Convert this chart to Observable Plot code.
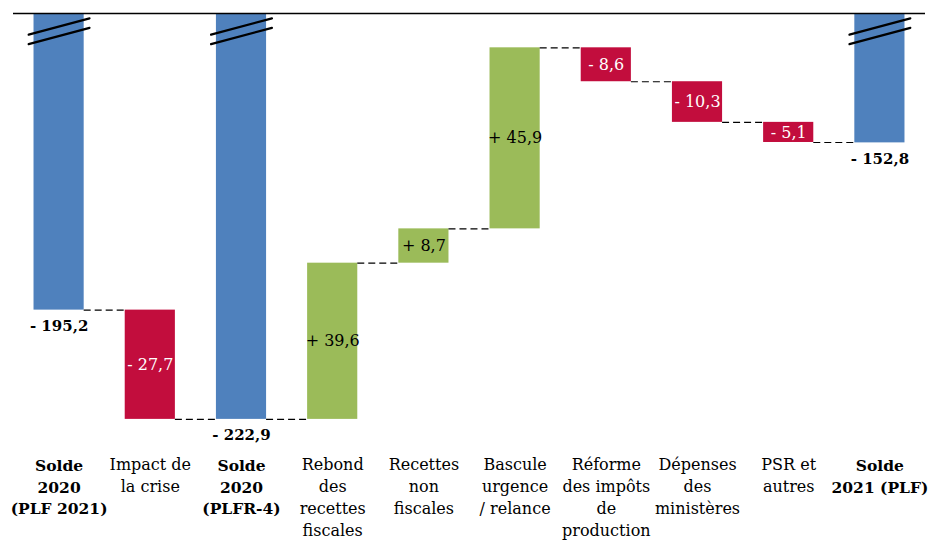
<!DOCTYPE html>
<html>
<head>
<meta charset="utf-8">
<script src="https://cdn.jsdelivr.net/npm/d3@7"></script>
<script src="https://cdn.jsdelivr.net/npm/@observablehq/plot@0.6"></script>
<style>
  html, body { margin: 0; padding: 0; background: #fff; }
</style>
</head>
<body>
<div id="chart"></div>
<script>
// ---- data ----
const categories = [
  "Solde\n2020\n(PLF 2021)",
  "Impact de\nla crise",
  "Solde\n2020\n(PLFR-4)",
  "Rebond\ndes\nrecettes\nfiscales",
  "Recettes\nnon\nfiscales",
  "Bascule\nurgence\n/ relance",
  "Réforme\ndes impôts\nde\nproduction",
  "Dépenses\ndes\nministères",
  "PSR et\nautres",
  "Solde\n2021 (PLF)"
];
const values = [-195.2, -27.7, -222.9, 39.6, 8.7, 45.9, -8.6, -10.3, -5.1, -152.8];
const kinds = ["total", "delta", "total", "delta", "delta", "delta", "delta", "delta", "delta", "total"];
const yDomain = [-228, -120];

// ---- derived rows ----
const fmt = v => (v < 0 ? "- " : "+ ") + Math.abs(v).toFixed(1).replace(".", ",");
let run = 0;
const rows = values.map((v, i) => {
  let y1, y2, cls;
  if (kinds[i] === "total") { y1 = 0; y2 = v; run = v; cls = "total"; }
  else { y1 = run; run = run + v; y2 = run; cls = v < 0 ? "neg" : "pos"; }
  return {i, v, y1, y2, end: run, cls, label: fmt(v), mid: (y1 + y2) / 2};
});
const connectors = rows.slice(0, -1).map(d => ({i: d.i, level: d.end}));
const totals = rows.filter(d => d.cls === "total");
const negs = rows.filter(d => d.cls === "neg");
const poss = rows.filter(d => d.cls === "pos");
const idx = categories.map((c, i) => i);
const boldIdx = idx.filter(i => kinds[i] === "total");
const normIdx = idx.filter(i => kinds[i] !== "total");

const hw = 0.275;
const FONT = "DejaVu Serif";
const lineShape = { draw(context, l) { context.moveTo(0, 0); context.lineTo(0, -l); } };

const chart = Plot.plot({
  width: 938,
  height: 554,
  marginTop: 13,
  marginBottom: 115,
  marginLeft: 13,
  marginRight: 13,
  style: {fontFamily: FONT, background: "#fff"},
  x: {domain: [-0.5, categories.length - 0.5], axis: null},
  y: {domain: yDomain, axis: null},
  color: {domain: ["total", "neg", "pos"], range: ["#4F81BD", "#C20D3D", "#9BBB59"]},
  marks: [
    Plot.rectY(rows, {x1: d => d.i - hw, x2: d => d.i + hw, y1: "y1", y2: "y2", fill: "cls", clip: true}),
    Plot.ruleY(connectors, {y: "level", x1: d => d.i + hw, x2: d => d.i + 1 - hw,
      stroke: "black", strokeWidth: 1.2, strokeDasharray: "7,4"}),
    Plot.ruleY([yDomain[1]], {stroke: "black", strokeWidth: 1.5}),
    Plot.vector(totals, {x: "i", frameAnchor: "top", dy: 13, length: 63, rotate: 75,
      shape: lineShape, stroke: "black", strokeWidth: 2.2}),
    Plot.vector(totals, {x: "i", frameAnchor: "top", dy: 22.5, length: 63, rotate: 75,
      shape: lineShape, stroke: "black", strokeWidth: 2.2}),
    // value labels
    Plot.text(totals, {x: "i", y: "v", dy: 16, text: "label", fontWeight: "bold",
      fontSize: 15, fontFamily: FONT, fill: "black"}),
    Plot.text(negs, {x: "i", y: "mid", text: "label", fontSize: 16, fontFamily: FONT, fill: "white"}),
    Plot.text(poss, {x: "i", y: "mid", text: "label", fontSize: 16, fontFamily: FONT, fill: "black"}),
    // category labels
    Plot.text(normIdx, {x: d => d, text: d => categories[d], frameAnchor: "bottom", lineAnchor: "top",
      dy: 15.6, fontSize: 16, lineHeight: 1.356, fontFamily: FONT, fill: "black"}),
    Plot.text(boldIdx, {x: d => d, text: d => categories[d], frameAnchor: "bottom", lineAnchor: "top",
      dy: 16.2, fontSize: 15.5, lineHeight: 1.4, fontWeight: "bold", fontFamily: FONT, fill: "black"})
  ]
});
document.getElementById("chart").appendChild(chart);
</script>
</body>
</html>
